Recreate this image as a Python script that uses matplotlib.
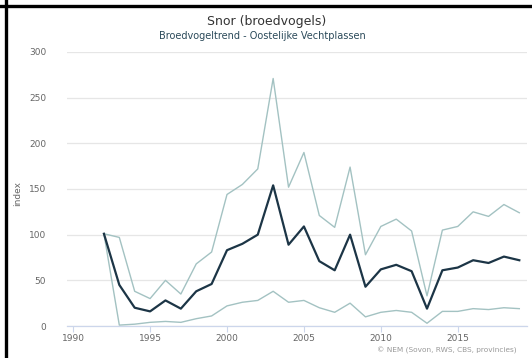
import matplotlib
matplotlib.use("Agg")
import matplotlib.pyplot as plt
from matplotlib.lines import Line2D

# Broedvogeltrend Snor - Oostelijke Vechtplassen (index, 1992 = 100)
years = list(range(1992, 2020))
trend = [101, 45, 20, 16, 28, 19, 38, 46, 83, 90, 100, 154, 89,
         109, 71, 61, 100, 43, 62, 67, 60, 19, 61, 64, 72, 69, 76, 72]
upper = [101, 97, 38, 30, 50, 35, 68, 81, 144, 155, 172, 271, 152,
         190, 121, 108, 174, 78, 109, 117, 104, 33, 105, 109, 125, 120, 133, 124]
lower = [101, 1, 2, 4, 5, 4, 8, 11, 22, 26, 28, 38, 26,
         28, 20, 15, 25, 10, 15, 17, 15, 3, 16, 16, 19, 18, 20, 19]

x_ticks = [1990, 1995, 2000, 2005, 2010, 2015]
y_ticks = [0, 50, 100, 150, 200, 250, 300]

plt.rcParams['font.family'] = ['DejaVu Sans']

fig = plt.figure(figsize=(5.32, 3.58), dpi=100)
ax = fig.add_axes([67 / 532, 32 / 358, 460 / 532, 274 / 358])

light = '#a3c2c2'
ax.plot(years, upper, color=light, lw=1.0, zorder=3)
ax.plot(years, lower, color=light, lw=1.0, zorder=3)
ax.plot(years, trend, color='#1c3546', lw=1.6, zorder=4)

ax.set_xlim(1989.6, 2019.5)
ax.set_ylim(0, 300)
ax.set_xticks(x_ticks)
ax.set_yticks(y_ticks)
ax.grid(axis='y', color='#e6e6e6', lw=0.9)
ax.set_axisbelow(True)

for side in ['top', 'right', 'left']:
    ax.spines[side].set_visible(False)
ax.spines['bottom'].set_color('#ccd6eb')
ax.spines['bottom'].set_linewidth(0.9)

ax.tick_params(axis='x', colors='#ccd6eb', length=4, width=0.8, labelcolor='#666666', labelsize=6.5, pad=2)
ax.tick_params(axis='y', length=0, labelcolor='#666666', labelsize=6.5, pad=15)
ax.set_ylabel('index', color='#666666', fontsize=6.5)
ax.yaxis.set_label_coords(-45 / 460, 0.485)

fig.text(0.502, 1 - 21 / 358, 'Snor (broedvogels)', ha='center', va='center',
         fontsize=9, color='#333333')
fig.text(0.493, 1 - 36 / 358, 'Broedvogeltrend - Oostelijke Vechtplassen', ha='center',
         va='center', fontsize=7, color='#2b4a5a')
fig.text(517 / 532, 1 - 350 / 358, '\u00a9 NEM (Sovon, RWS, CBS, provincies)', ha='right',
         va='center', fontsize=5.3, color='#999999')

# black frame edges from the screenshot
fig.add_artist(Line2D([5.5 / 532, 5.5 / 532], [0, 1], color='black', lw=2.4,
                      transform=fig.transFigure))
fig.add_artist(Line2D([0, 1], [1 - 5.5 / 358, 1 - 5.5 / 358], color='black', lw=2.4,
                      transform=fig.transFigure))

fig.savefig('out.png', dpi=100)
